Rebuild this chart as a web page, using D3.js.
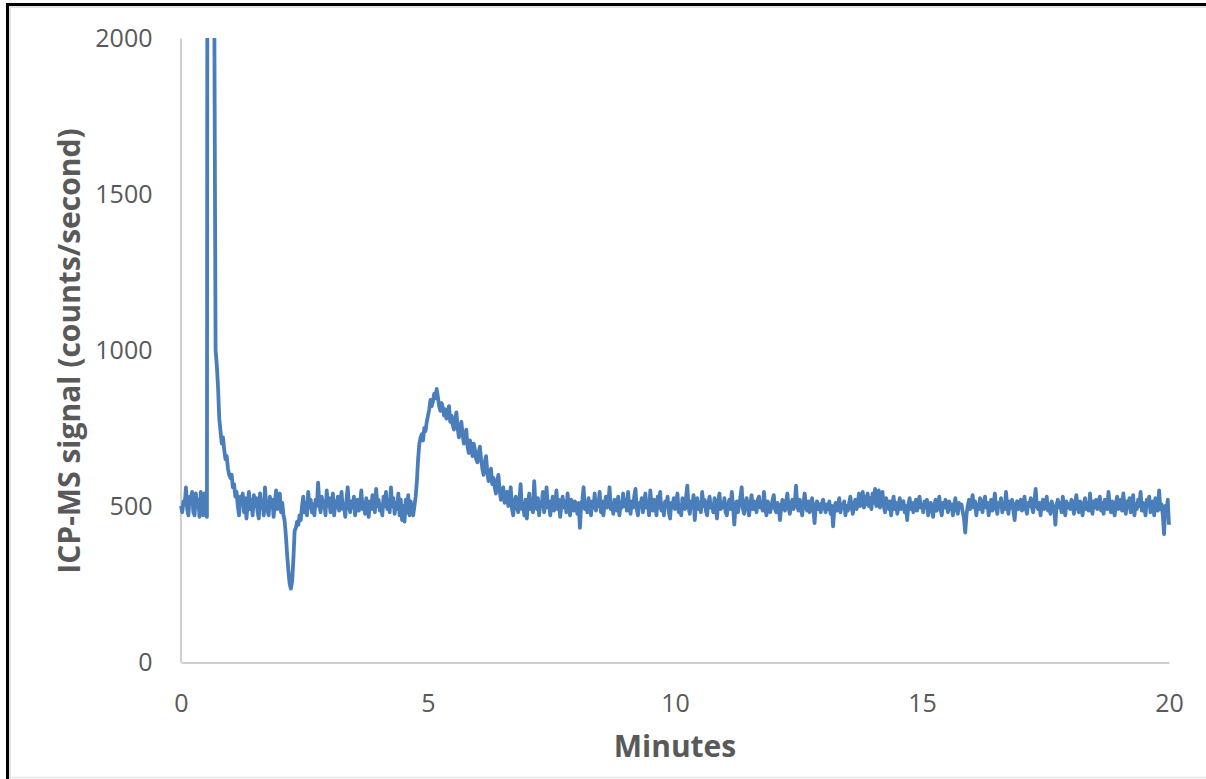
<!DOCTYPE html>
<html>
<head>
<meta charset="utf-8">
<script src="https://cdn.jsdelivr.net/npm/d3@7"></script>
<style>
  html, body { margin: 0; padding: 0; background: #fff; }
  svg { display: block; }
  text { font-family: "Open Sans", "Noto Sans", sans-serif; }
</style>
</head>
<body>
<svg id="chart" width="1206" height="779"></svg>
<script>
// ---- Data ----
const sampleStep = 0.025; // minutes between samples
const signal = [
  // 0.000 - 0.975
  500,480,515,505,560,490,470,530,520,545,480,470,540,500,520,465,545,510,470,540,500,465,6000,7000,6000,5000,3500,2050,1000,950,880,780,740,700,720,680,650,660,620,600,
  // 1.000 - 1.975
  590,600,560,570,530,545,500,470,530,505,540,480,525,460,510,545,490,520,470,535,500,525,480,460,540,495,515,470,560,500,485,470,530,500,520,465,510,550,490,505,
  // 2.000 - 2.975
  540,480,510,470,450,400,340,290,250,235,260,330,420,430,450,440,470,455,500,530,480,510,470,545,495,520,480,505,470,520,500,575,510,480,530,495,515,470,550,500,
  // 3.000 - 3.975
  525,480,505,540,470,515,495,530,485,510,545,490,505,465,520,560,500,480,515,495,530,470,505,520,485,500,550,490,510,475,525,500,465,515,490,535,505,480,555,500,
  // 4.000 - 4.975
  520,485,505,470,530,500,545,490,515,480,560,500,525,475,510,490,540,470,520,455,500,450,520,480,535,470,515,490,470,500,530,580,650,700,720,730,710,750,740,770,
  // 5.000 - 5.975
  790,810,840,820,835,860,845,875,850,820,805,830,815,790,810,780,800,820,770,790,760,745,780,800,750,720,740,770,730,700,720,745,690,670,710,690,660,700,680,650,
  // 6.000 - 6.975
  640,670,690,650,620,600,640,660,610,580,600,620,570,590,560,540,580,600,550,520,540,560,510,530,545,500,520,560,490,470,510,530,500,480,520,570,490,505,470,520,
  // 7.000 - 7.975
  460,510,540,490,515,480,580,505,490,525,470,510,500,545,480,505,560,495,515,470,505,530,485,500,550,490,520,465,500,530,495,515,480,540,500,470,520,505,485,515,
  // 8.000 - 8.975
  495,475,510,430,500,520,560,490,505,480,525,500,470,515,495,540,485,510,500,545,480,515,470,505,530,495,510,560,490,505,475,520,500,485,530,470,510,495,540,500,
  // 9.000 - 9.975
  520,485,545,500,475,515,495,530,555,490,470,510,500,525,480,505,540,495,515,470,550,500,485,520,505,470,530,495,545,485,505,470,515,500,530,480,460,510,495,525,
  // 10.000 - 10.975
  490,510,540,480,500,470,525,505,490,530,565,495,475,515,500,535,455,505,525,490,510,480,545,500,520,485,470,510,530,495,505,480,525,500,460,515,540,490,510,495,
  // 11.000 - 11.975
  525,480,470,505,520,490,545,500,440,495,515,480,505,530,560,490,475,510,525,495,470,505,535,490,515,500,480,520,530,495,505,485,545,500,470,515,505,480,495,520,
  // 12.000 - 12.975
  535,490,480,510,500,455,495,520,505,485,515,540,495,475,505,520,490,510,565,500,485,520,495,470,510,540,500,485,515,480,500,525,490,445,500,515,490,505,480,510,
  // 13.000 - 13.975
  520,495,480,505,490,515,475,500,435,490,510,485,500,525,480,505,495,515,470,500,485,510,530,495,475,505,520,490,510,540,500,520,545,495,530,505,540,500,525,490,
  // 14.000 - 14.975
  540,510,555,500,530,550,495,520,545,500,480,525,505,490,515,470,505,530,490,510,475,500,525,490,505,515,480,500,455,505,525,490,510,480,500,520,485,505,530,495,
  // 15.000 - 15.975
  505,480,515,495,520,470,500,510,490,465,505,520,485,500,530,490,470,510,495,520,500,480,515,490,505,470,500,525,490,475,510,495,505,480,460,415,470,500,520,490,
  // 16.000 - 16.975
  510,535,495,515,470,505,490,525,500,480,515,530,495,510,470,500,520,485,505,540,495,475,510,500,525,480,505,490,545,500,475,515,495,520,485,455,505,515,490,500,
  // 17.000 - 17.975
  520,485,505,530,490,475,510,500,525,495,480,515,555,500,490,510,470,505,520,490,500,530,485,505,475,515,500,490,440,505,520,495,510,480,530,500,470,515,495,505,
  // 18.000 - 18.975
  490,520,500,475,510,535,495,480,515,500,470,505,525,490,510,485,540,500,475,515,495,520,490,505,530,485,510,475,520,500,490,545,505,480,515,495,470,510,530,490,
  // 19.000 - 20.000
  505,520,485,540,500,475,515,495,525,480,510,535,470,505,490,520,500,545,485,510,495,470,520,505,530,480,500,515,470,525,500,485,550,490,505,470,410,500,480,520,440
];
const minutes = signal.map((_, i) => i * sampleStep);
const xTicks = [0, 5, 10, 15, 20];
const yTicks = [0, 500, 1000, 1500, 2000];
const xTitle = "Minutes";
const yTitle = "ICP-MS signal (counts/second)";

// ---- Layout ----
const W = 1206, H = 779;
const plot = { left: 181, right: 1169, top: 38, bottom: 662 };
const svg = d3.select("#chart");

// outer frame
svg.append("rect").attr("x", 0).attr("y", 0).attr("width", W).attr("height", H).attr("fill", "#fff");
svg.append("line").attr("x1", 7.5).attr("x2", 7.5).attr("y1", 3).attr("y2", H).attr("stroke", "#000").attr("stroke-width", 3);
svg.append("line").attr("x1", 6).attr("x2", W).attr("y1", 4.5).attr("y2", 4.5).attr("stroke", "#000").attr("stroke-width", 3);
svg.append("line").attr("x1", 10).attr("x2", 10).attr("y1", 6).attr("y2", H).attr("stroke", "#e3e3e3").attr("stroke-width", 2);
svg.append("line").attr("x1", 9).attr("x2", W).attr("y1", 7).attr("y2", 7).attr("stroke", "#e3e3e3").attr("stroke-width", 2);
svg.append("line").attr("x1", 9).attr("x2", W).attr("y1", 777.5).attr("y2", 777.5).attr("stroke", "#e6e6e6").attr("stroke-width", 1.5);

const x = d3.scaleLinear().domain([0, 20]).range([plot.left, plot.right]);
const y = d3.scaleLinear().domain([0, 2000]).range([plot.bottom, plot.top]);

const tickColor = "#595959";
const axisColor = "#bfbfbf";

// y axis
const yAxis = d3.axisLeft(y).tickValues(yTicks).tickSize(0).tickPadding(28).tickFormat(d3.format("d"));
const gy = svg.append("g").attr("transform", `translate(${plot.left - 0.5},0)`).call(yAxis);
gy.select(".domain").attr("stroke", axisColor).attr("stroke-width", 1.5);
gy.selectAll("text").attr("fill", tickColor).attr("font-size", 25).attr("font-family", '"Open Sans", sans-serif');

// x axis
const xAxis = d3.axisBottom(x).tickValues(xTicks).tickSize(0).tickPadding(32).tickFormat(d3.format("d"));
const gx = svg.append("g").attr("transform", `translate(0,${plot.bottom + 0.5})`).call(xAxis);
gx.select(".domain").attr("stroke", axisColor).attr("stroke-width", 1.5);
gx.selectAll("text").attr("fill", tickColor).attr("font-size", 25).attr("font-family", '"Open Sans", sans-serif');

// clip
svg.append("clipPath").attr("id", "clip")
  .append("rect").attr("x", plot.left - 5).attr("y", plot.top).attr("width", plot.right - plot.left + 10).attr("height", plot.bottom - plot.top + 5);

const line = d3.line().x((d, i) => x(minutes[i])).y(d => y(d));
svg.append("path").datum(signal)
  .attr("clip-path", "url(#clip)")
  .attr("fill", "none")
  .attr("stroke", "#4a7ebb")
  .attr("stroke-width", 3.8)
  .attr("stroke-linejoin", "round")
  .attr("d", line);

// titles
svg.append("text").attr("x", 675).attr("y", 757)
  .attr("text-anchor", "middle").attr("font-size", 30).attr("font-weight", "bold").attr("fill", tickColor).text(xTitle);
svg.append("text").attr("transform", `translate(80,351) rotate(-90)`)
  .attr("text-anchor", "middle").attr("font-size", 30).attr("font-weight", "bold").attr("fill", tickColor).text(yTitle);
</script>
</body>
</html>
